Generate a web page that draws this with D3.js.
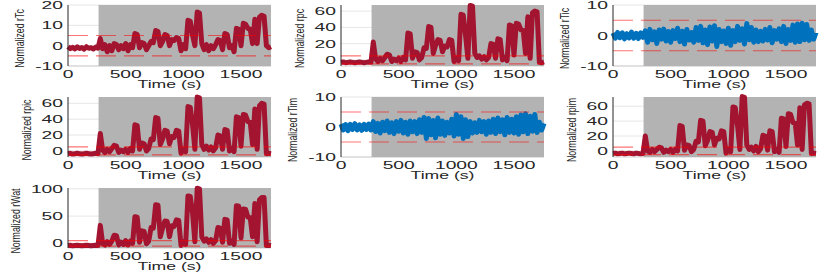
<!doctype html>
<html>
<head>
<script src="https://d3js.org/d3.v7.min.js"></script>
<style>
  body { margin: 0; background: #fff; }
  text { fill: #262626; font-family: 'Liberation Sans', Arial, sans-serif; }
</style>
</head>
<body>
<svg width="830" height="277"></svg>
<script>
// sample times (s), one every 20 s
var time = d3.range(0, 1761, 20);
var xTicks = [0, 500, 1000, 1500];
var taskStart = 265; // grey shaded part starts here

var rTc = [-0.5,-1.5,-0.8,-1.6,-0.6,-1.4,-0.9,-1.7,-0.5,-1.3,-1.0,-1.6,-0.7,-1.2,
  3.5,-1.5,0.5,-3,0,-2.5,1,0.5,-2,0,-1.5,1,-2.5,0.5,-1,
  6,5.5,-1,1.5,1,-2,0,2,1.5,7.5,7,0,2,5.5,5,0,3,2.5,4,3.5,-2.5,0.5,-1.5,
  12.5,12,5,0,16.5,16,1,-2,0.5,-2.5,0,-1.5,0.5,3,2.5,-2,6,5.5,-1,0,-3,
  8.5,8,0,11,10.5,8.5,8,1,13,1,14,15,14.5,0,-1,-0.5];

var rpc = [-3,-2.5,-3.5,-3,-2.5,-3,-3.5,-3,-2.5,-3,-3.5,-3,-2.5,-3,
  22,1,-2,2,-1,3,7,6,-2,1,-1,2,-2,3,0,
  33,32,2,10,9,0,3,15,14,41,40,8,18,25,24,10,17,16,25,24,-2,2,-1,
  56,55,30,2,67,66,8,3,5,1,4,0,3,20,19,2,26,25,0,3,-1,
  43,42,6,45,44,37,36,8,53,2,58,60,59,-3,-3.5,-2.5];

var rTic = [0.8,-0.9,1.0,-0.7,0.9,-1.1,0.6,-0.8,1.1,-0.9,0.7,-1.0,0.9,-0.6,
  1.5,-2.2,2.0,-1.4,1.2,-2.6,1.8,-1.2,2.1,-1.8,
  1.3,-2.2,1.6,-1.0,2.4,-2.0,1.4,-2.8,2.0,-1.5,
  1.0,-2.2,2.6,-1.6,3.0,-2.4,1.8,-3.0,2.8,-1.8,
  3.2,-3.6,2.0,-2.0,1.5,-2.6,2.4,-3.2,1.6,-2.0,
  3.0,-1.6,2.2,-2.8,3.9,-1.4,2.6,-2.2,1.8,-2.0,
  1.4,-1.8,2.0,-1.5,2.6,-2.4,1.6,-1.2,2.2,-2.0,
  3.0,-2.6,2.0,-1.6,3.4,-2.2,3.8,-2.0,4.0,-1.4,
  3.6,-1.6,1.8,-1.2,1.0];

var rpic = [-3.5,-3,-4,-3.5,-3,-3.5,-4,-3.5,-3,-3.5,-4,-3.5,-3,-3.5,
  22,1,-2,2,-1,3,7,6,-2,1,-1,2,-2,3,0,
  33,32,2,10,9,0,3,15,14,42,41,8,15,26,25,9,18,17,26,25,-3,2,-1,
  56,55,33,2,68,67,8,2,6,1,5,0,4,20,19,2,27,26,0,3,-1,
  43,42,6,46,45,37,36,8,53,2,57,60,59,-3.5,-3,-3.5];

var rTim = [1.0,-1.0,0.8,-1.2,0.9,-0.8,1.1,-1.0,0.7,-1.1,0.9,-0.8,1.0,-1.0,
  1.8,-1.5,1.2,-2.0,1.6,-1.2,2.0,-1.8,1.4,-2.2,
  1.8,-1.4,2.2,-2.0,1.6,-2.4,2.0,-1.6,1.8,-2.2,
  2.4,-1.8,3.2,-3.8,2.8,-2.6,2.2,-3.6,3.0,-2.4,
  2.0,-2.8,1.6,-2.0,2.6,-3.0,4.2,-2.4,3.4,-3.8,
  2.4,-3.2,1.8,-2.0,1.4,-1.8,2.2,-1.6,1.8,-2.4,
  2.0,-1.8,2.6,-2.2,3.0,-1.6,2.4,-2.6,3.2,-1.8,
  2.6,-2.0,3.4,-2.4,4.0,-1.6,4.4,-2.2,3.6,-1.4,
  4.2,-1.8,1.6,-1.0,1.2];

var rpim = [-3.5,-3,-4,-3.5,-3,-4,-3.5,-3,-3.5,-4,-3,-3.5,-4,-3.5,
  20,0,-2,2,-1,2,5,4,-2,1,-1,2,-2,2,0,
  34,33,1,8,7,-1,2,13,12,41,40,7,14,26,25,8,17,16,27,26,-3,2,-1,
  59,58,34,2,73,72,8,2,5,0,6,-1,3,21,20,1,27,26,-1,2,-2,
  44,43,6,50,49,38,37,8,58,2,62,64,63,-3.5,-3,-3.5];

var rWat = [-4,-3.5,-4.5,-4,-3.5,-4,-4.5,-4,-3.5,-4,-4.5,-4,-3.5,-4,
  33,0,-3,3,-2,4,15,14,-3,2,-2,5,-3,4,0,
  49,48,2,23,22,-1,4,29,28,71,70,12,28,41,40,12,32,31,43,42,-4,3,-2,
  87,86,56,3,101,100,12,4,8,2,7,0,5,29,28,2,44,43,0,4,-2,
  69,68,10,63,62,48,47,12,73,3,80,84,84,-4,-3.5,-4];

var red = "#A2142F", blue = "#0072BD";

var panels = [
  { label: "Normalized rTc",  data: rTc,  color: red,  dom: [-10, 20],    ticks: [-10, 0, 10, 20], col: 0, row: 0 },
  { label: "Normalized rpc",  data: rpc,  color: red,  dom: [-7.5, 67.5], ticks: [0, 20, 40, 60],  col: 1, row: 0 },
  { label: "Normalized rTic", data: rTic, color: blue, dom: [-10, 10],    ticks: [-10, 0, 10],     col: 2, row: 0 },
  { label: "Normalized rpic", data: rpic, color: red,  dom: [-7.7, 68],   ticks: [0, 20, 40, 60],  col: 0, row: 1 },
  { label: "Normalized rTim", data: rTim, color: blue, dom: [-10, 10],    ticks: [-10, 0, 10],     col: 1, row: 1 },
  { label: "Normalized rpim", data: rpim, color: red,  dom: [-8.2, 72.4], ticks: [0, 20, 40, 60],  col: 2, row: 1 },
  { label: "Normalized rWat", data: rWat, color: red,  dom: [-8.5, 101.5],ticks: [0, 50, 100],     col: 0, row: 2 }
];

var colX = [68, 341, 613], rowY = [5, 97, 188], rowH = [61, 60, 60], W = 203;
var svg = d3.select("svg");

panels.forEach(function (p) {
  var left = colX[p.col], top = rowY[p.row], h = rowH[p.row];
  var g = svg.append("g").attr("transform", "translate(" + left + "," + top + ")");
  var x = d3.scaleLinear().domain([0, 1760]).range([0, W]);
  var y = d3.scaleLinear().domain(p.dom).range([h, 0]);

  // faint grid
  g.selectAll(".grid").data(p.ticks).enter().append("line")
    .attr("x1", 0).attr("x2", W)
    .attr("y1", d => y(d)).attr("y2", d => y(d))
    .attr("stroke", "#e6e6e6").attr("stroke-width", 1);

  g.append("line").attr("x1", 0).attr("x2", W).attr("y1", h).attr("y2", h)
    .attr("stroke", "#cfcfcf");

  // grey task period
  g.append("rect")
    .attr("x", x(taskStart)).attr("y", 0)
    .attr("width", x(1760) - x(taskStart)).attr("height", h)
    .attr("fill", "#b3b3b3");

  var line = d3.line().x((d, i) => x(time[i])).y(d => y(d));
  g.append("path").datum(p.data)
    .attr("d", line)
    .attr("fill", "none")
    .attr("stroke", p.color)
    .attr("stroke-width", 5)
    .attr("stroke-linejoin", "round");

  // +-5 threshold lines
  [5, -5].forEach(function (v) {
    if (v < p.dom[0]) return;
    g.append("line")
      .attr("x1", 0).attr("x2", W).attr("y1", y(v)).attr("y2", y(v))
      .attr("stroke", "#ff0000").attr("stroke-opacity", 0.55)
      .attr("stroke-width", 1.2).attr("stroke-dasharray", "20,8");
  });

  g.append("line").attr("x1", 0).attr("x2", 0).attr("y1", 0).attr("y2", h)
    .attr("stroke", "#262626").attr("stroke-width", 1);

  // tick labels
  var maxW = 0;
  p.ticks.forEach(function (t) {
    var tx = g.append("text")
      .attr("transform", "translate(-5," + (y(t) + 4) + ") scale(1.75,1)")
      .attr("text-anchor", "end").attr("font-size", 11).text(t);
    maxW = Math.max(maxW, tx.node().getComputedTextLength() * 1.75);
  });
  xTicks.forEach(function (t) {
    g.append("text")
      .attr("transform", "translate(" + x(t) + "," + (h + 11.5) + ") scale(1.75,1)")
      .attr("text-anchor", "middle").attr("font-size", 11).text(t);
  });
  g.append("text")
    .attr("transform", "translate(" + (W / 2) + "," + (h + 22) + ") scale(1.6,1)")
    .attr("text-anchor", "middle").attr("font-size", 11).text("Time (s)");

  // y label: narrow, tall glyphs
  g.append("text")
    .attr("transform", "translate(" + (-5 - maxW - 11) + "," + (h / 2 + 3) + ") scale(1.4,1) rotate(-90)")
    .attr("text-anchor", "middle").attr("font-size", 8.8)
    .text(p.label);
});
</script>
</body>
</html>
